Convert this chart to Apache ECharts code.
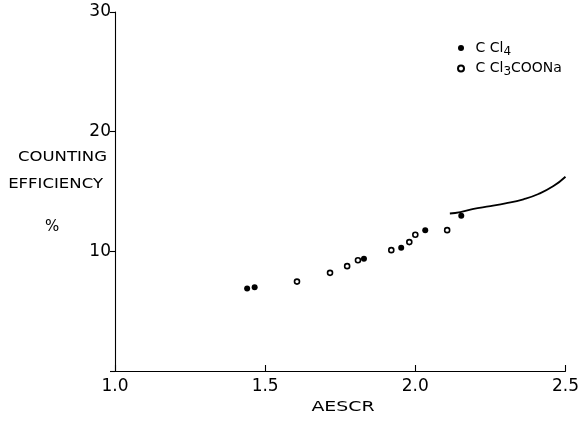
<!DOCTYPE html>
<html>
<head>
<meta charset="utf-8">
<style>
  html, body { margin: 0; padding: 0; background: #fff; }
  #chart { width: 582px; height: 421px; }
</style>
<script src="https://cdn.jsdelivr.net/npm/echarts@6/dist/echarts.min.js"></script>
</head>
<body>
<div id="chart"></div>
<script>
// Counting efficiency (%) against AESCR
const xTicks = [1.0, 1.5, 2.0, 2.5];
const yTicks = [10, 20, 30];

// CCl4 quenched samples (filled)
const ccl4X = [1.440, 1.465, 1.829, 1.953, 2.033, 2.153];
const ccl4Y = [6.89, 7.00, 9.37, 10.29, 11.77, 12.97];

// CCl3COONa quenched samples (open)
const naX = [1.606, 1.716, 1.773, 1.809, 1.920, 1.980, 2.000, 2.106];
const naY = [7.47, 8.20, 8.76, 9.26, 10.10, 10.77, 11.38, 11.77];

// Calibration curve
const curveX = [2.115, 2.15, 2.19, 2.25, 2.30, 2.36, 2.41, 2.46, 2.50];
const curveY = [13.16, 13.28, 13.53, 13.78, 14.00, 14.35, 14.79, 15.45, 16.23];

const pairs = (xs, ys) => xs.map((x, i) => [x, ys[i]]);

const FONT = 'DejaVu Sans';
const chart = echarts.init(document.getElementById('chart'), null, { renderer: 'canvas' });

chart.setOption({
  animation: false,
  backgroundColor: '#ffffff',
  textStyle: { fontFamily: FONT, color: '#000' },
  grid: { left: 115, right: 15, top: 12, bottom: 50 },
  xAxis: {
    type: 'value',
    min: xTicks[0],
    max: xTicks[xTicks.length - 1],
    interval: 0.5,
    axisLine: { lineStyle: { color: '#000', width: 1.1 } },
    axisTick: { inside: true, length: 6, lineStyle: { color: '#000', width: 1.1 } },
    axisLabel: {
      fontFamily: FONT, fontSize: 17, color: '#000', margin: 7,
      formatter: v => v.toFixed(1)
    },
    splitLine: { show: false }
  },
  yAxis: {
    type: 'value',
    min: 0,
    max: yTicks[yTicks.length - 1],
    interval: 10,
    axisLine: { lineStyle: { color: '#000', width: 1.1 } },
    axisTick: { length: 5, lineStyle: { color: '#000', width: 1.1 } },
    axisLabel: {
      fontFamily: FONT, fontSize: 17, color: '#000', margin: 4,
      formatter: v => (yTicks.includes(v) ? String(v) : '')
    },
    splitLine: { show: false }
  },
  legend: {
    orient: 'vertical',
    left: 452,
    top: 36,
    itemGap: 4,
    itemWidth: 19,
    itemHeight: 6,
    data: [
      { name: 'CCl4', icon: 'circle' },
      { name: 'CCl3COONa', icon: 'circle' }
    ],
    formatter: name => name === 'CCl4'
      ? '{m|C Cl}{s|4}'
      : '{m|C Cl}{s|3}{m|COONa}',
    textStyle: {
      fontFamily: FONT,
      color: '#000',
      rich: {
        m: { fontFamily: FONT, fontSize: 14, color: '#000' },
        s: { fontFamily: FONT, fontSize: 12, color: '#000', verticalAlign: 'bottom', padding: [7, 0, 0, 0] }
      }
    }
  },
  series: [
    {
      name: 'CCl4',
      type: 'scatter',
      symbol: 'circle',
      symbolSize: 6,
      itemStyle: { color: '#000', opacity: 1 },
      data: pairs(ccl4X, ccl4Y),
      z: 3
    },
    {
      name: 'CCl3COONa',
      type: 'scatter',
      symbol: 'circle',
      symbolSize: 5,
      itemStyle: { color: '#fff', borderColor: '#000', borderWidth: 1.6, opacity: 1 },
      data: pairs(naX, naY),
      z: 3
    },
    {
      name: 'curve',
      type: 'line',
      smooth: true,
      showSymbol: false,
      lineStyle: { color: '#000', width: 1.8 },
      data: pairs(curveX, curveY),
      z: 2
    }
  ],
  graphic: [
    // axis titles, drawn in a wide lettering style
    { type: 'text', x: 343, y: 407, scaleX: 1.35,
      style: { text: 'AESCR', fontFamily: FONT, fontSize: 14, fill: '#000', align: 'center', verticalAlign: 'middle' } },
    { type: 'text', x: 107, y: 150, scaleX: 1.18,
      style: { text: 'COUNTING', fontFamily: FONT, fontSize: 14, fill: '#000', align: 'right', verticalAlign: 'top' } },
    { type: 'text', x: 103, y: 177, scaleX: 1.18,
      style: { text: 'EFFICIENCY', fontFamily: FONT, fontSize: 14, fill: '#000', align: 'right', verticalAlign: 'top' } },
    { type: 'text', x: 45, y: 220,
      style: { text: '%', fontFamily: FONT, fontSize: 15, fill: '#000' } }
  ]
});
</script>
</body>
</html>
